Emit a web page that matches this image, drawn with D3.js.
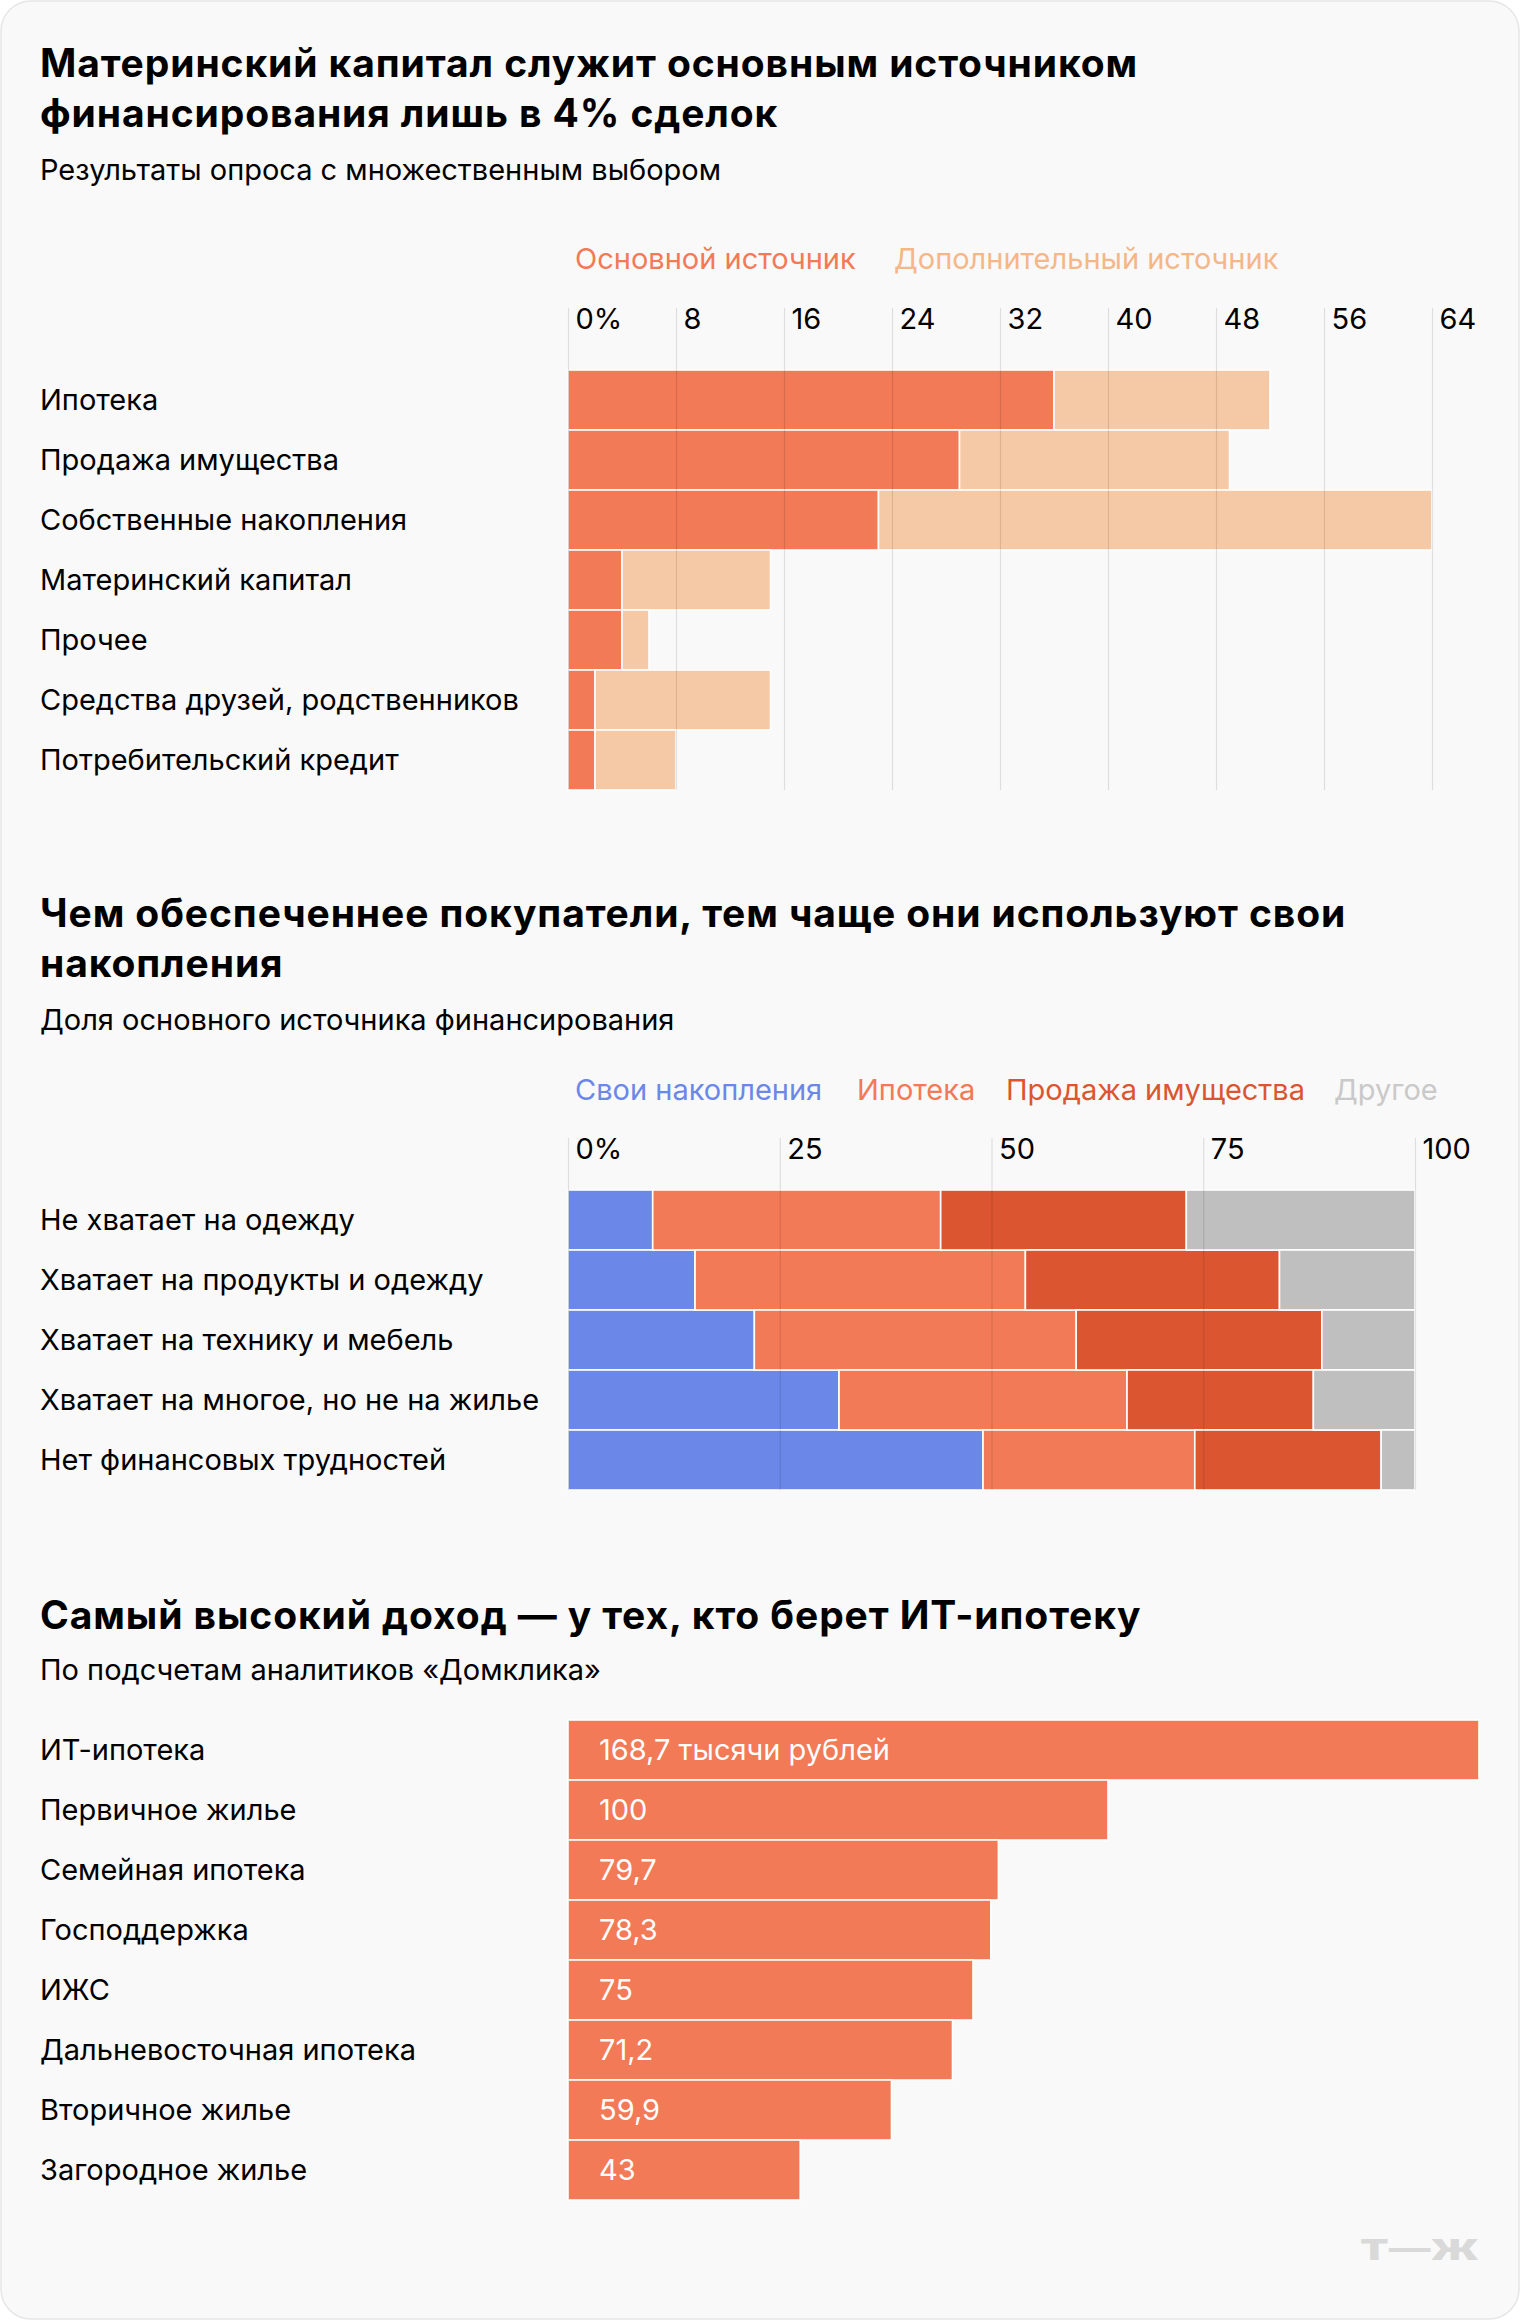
<!DOCTYPE html>
<html>
<head>
<meta charset="utf-8">
<script src="https://cdn.jsdelivr.net/npm/d3@7"></script>
<style>
  html, body { margin: 0; padding: 0; background: #ffffff; }
  svg { display: block; }
  text { font-family: "Inter", "Roboto", "Noto Sans", sans-serif; }
</style>
</head>
<body>
<svg id="chart" width="1520" height="2320"></svg>
<script>
// ---------- Chart 1 data ----------
const title1 = ["Материнский капитал служит основным источником", "финансирования лишь в 4% сделок"];
const subtitle1 = "Результаты опроса с множественным выбором";
const legend1 = ["Основной источник", "Дополнительный источник"];
const cats1 = ["Ипотека", "Продажа имущества", "Собственные накопления", "Материнский капитал", "Прочее", "Средства друзей, родственников", "Потребительский кредит"];
const primary1 = [36, 29, 23, 4, 4, 2, 2];
const secondary1 = [16, 20, 41, 11, 2, 13, 6];
const ticks1 = [0, 8, 16, 24, 32, 40, 48, 56, 64];
const tickLabels1 = ["0%", "8", "16", "24", "32", "40", "48", "56", "64"];

// ---------- Chart 2 data ----------
const title2 = ["Чем обеспеченнее покупатели, тем чаще они используют свои", "накопления"];
const subtitle2 = "Доля основного источника финансирования";
const series2 = ["Свои накопления", "Ипотека", "Продажа имущества", "Другое"];
const cats2 = ["Не хватает на одежду", "Хватает на продукты и одежду", "Хватает на технику и мебель", "Хватает на многое, но не на жилье", "Нет финансовых трудностей"];
const savings2 = [10, 15, 22, 32, 49];
const mortgage2 = [34, 39, 38, 34, 25];
const sale2 = [29, 30, 29, 22, 22];
const other2 = [27, 16, 11, 12, 4];
const ticks2 = [0, 25, 50, 75, 100];
const tickLabels2 = ["0%", "25", "50", "75", "100"];

// ---------- Chart 3 data ----------
const title3 = ["Самый высокий доход — у тех, кто берет ИТ-ипотеку"];
const subtitle3 = "По подсчетам аналитиков «Домклика»";
const cats3 = ["ИТ-ипотека", "Первичное жилье", "Семейная ипотека", "Господдержка", "ИЖС", "Дальневосточная ипотека", "Вторичное жилье", "Загородное жилье"];
const values3 = [168.7, 100, 79.7, 78.3, 75, 71.2, 59.9, 43];
const valueLabels3 = ["168,7 тысячи рублей", "100", "79,7", "78,3", "75", "71,2", "59,9", "43"];

// ---------- styles ----------
const C = {
  bg: "#f9f9f9", border: "#e6e6e6",
  primary: "#f27a56", secondary: "#f6c9a6", secondaryText: "#f5b688",
  blue: "#6b87e8", mortgage: "#f27a56", sale: "#db5630", other: "#bfbfbf", otherText: "#c9c9c9",
  text: "#000000", grid: "rgba(0,0,0,0.11)", logo: "#d9d9d9"
};
const FS = { title: 39, sub: 29, label: 29 };
const LEFT = 40, X0 = 568;

const svg = d3.select("#chart");
svg.append("rect").attr("x", 1).attr("y", 1).attr("width", 1518).attr("height", 2318)
  .attr("rx", 30).attr("fill", C.bg).attr("stroke", C.border).attr("stroke-width", 1.5);

function header(g, lines, sub, y0, subY) {
  lines.forEach((t, i) => {
    g.append("text").attr("x", LEFT).attr("y", y0 + i * 50).attr("font-size", FS.title)
      .attr("font-weight", 700).attr("fill", C.text).attr("letter-spacing", 0.9).text(t);
  });
  g.append("text").attr("x", LEFT).attr("y", subY).attr("font-size", FS.sub)
    .attr("fill", C.text).text(sub);
}

function legend(g, names, colors, xs, y) {
  names.forEach((n, i) => {
    g.append("text").attr("x", xs[i]).attr("y", y).attr("font-size", FS.label)
      .attr("fill", colors[i]).text(n);
  });
}

function axis(g, x, tickVals, tickLabels, top, bottom) {
  const ax = g.append("g").attr("transform", `translate(0,${top})`)
    .call(d3.axisTop(x).tickValues(tickVals).tickSize(-(bottom - top))
      .tickFormat((d, i) => tickLabels[i]));
  ax.select(".domain").remove();
  ax.selectAll(".tick line").attr("stroke", C.grid).attr("stroke-width", 1.2);
  ax.selectAll(".tick text").attr("x", 7).attr("y", 21).attr("dy", null)
    .attr("text-anchor", "start").attr("font-size", FS.label).attr("fill", C.text)
    .attr("font-family", null);
  return ax;
}

function catLabels(g, y, cats) {
  g.selectAll(null).data(cats).join("text")
    .attr("x", LEFT).attr("y", d => y(d) + y.bandwidth() / 2)
    .attr("dy", "0.35em").attr("font-size", FS.label).attr("fill", C.text).text(d => d);
}

// ================= Chart 1 =================
{
  const g = svg.append("g");
  header(g, title1, subtitle1, 77, 180);
  legend(g, legend1, [C.primary, C.secondaryText], [575, 894], 269);
  const x = d3.scaleLinear().domain([0, 64]).range([X0, 1432]);
  const y = d3.scaleBand().domain(cats1).range([370, 790]);
  catLabels(g, y, cats1);
  const rows = cats1.map((c, i) => ({ c, p: primary1[i], s: secondary1[i] }));
  g.selectAll(null).data(rows).join("rect")
    .attr("x", x(0)).attr("y", d => y(d.c)).attr("width", d => x(d.p) - x(0))
    .attr("height", y.bandwidth()).attr("fill", C.primary).attr("stroke", "#fff").attr("stroke-width", 1.6);
  g.selectAll(null).data(rows).join("rect")
    .attr("x", d => x(d.p)).attr("y", d => y(d.c)).attr("width", d => x(d.p + d.s) - x(d.p))
    .attr("height", y.bandwidth()).attr("fill", C.secondary).attr("stroke", "#fff").attr("stroke-width", 1.6);
  axis(g, x, ticks1, tickLabels1, 308, 790);
}

// ================= Chart 2 =================
{
  const g = svg.append("g");
  header(g, title2, subtitle2, 927, 1030);
  const colors = [C.blue, C.mortgage, C.sale, C.other];
  legend(g, series2, [C.blue, C.mortgage, C.sale, C.otherText], [575, 857, 1006, 1334], 1100);
  const x = d3.scaleLinear().domain([0, 100]).range([X0, 1415]);
  const y = d3.scaleBand().domain(cats2).range([1190, 1490]);
  catLabels(g, y, cats2);
  const table = cats2.map((c, i) => ({ c, s0: savings2[i], s1: mortgage2[i], s2: sale2[i], s3: other2[i] }));
  const stack = d3.stack().keys(["s0", "s1", "s2", "s3"])(table);
  stack.forEach((layer, k) => {
    g.selectAll(null).data(layer).join("rect")
      .attr("x", d => x(d[0])).attr("y", d => y(d.data.c))
      .attr("width", d => x(d[1]) - x(d[0])).attr("height", y.bandwidth())
      .attr("fill", colors[k]).attr("stroke", "#fff").attr("stroke-width", 1.6);
  });
  axis(g, x, ticks2, tickLabels2, 1138, 1490);
}

// ================= Chart 3 =================
{
  const g = svg.append("g");
  header(g, title3, subtitle3, 1629, 1680);
  const x = d3.scaleLinear().domain([0, 168.7]).range([X0, 1479]);
  const y = d3.scaleBand().domain(cats3).range([1720, 2200]);
  catLabels(g, y, cats3);
  const rows = cats3.map((c, i) => ({ c, v: values3[i], l: valueLabels3[i] }));
  g.selectAll(null).data(rows).join("rect")
    .attr("x", x(0)).attr("y", d => y(d.c)).attr("width", d => x(d.v) - x(0))
    .attr("height", y.bandwidth()).attr("fill", C.primary).attr("stroke", "#fff").attr("stroke-width", 1.6);
  g.selectAll(null).data(rows).join("text")
    .attr("x", x(0) + 31).attr("y", d => y(d.c) + y.bandwidth() / 2).attr("dy", "0.35em")
    .attr("font-size", FS.label).attr("fill", "#fff").text(d => d.l);
}

// logo
svg.append("text").attr("x", 1360).attr("y", 2260).attr("font-size", 28).attr("font-weight", 900)
  .attr("fill", C.logo).attr("textLength", 119).attr("lengthAdjust", "spacingAndGlyphs").text("Т—Ж");
</script>
</body>
</html>
